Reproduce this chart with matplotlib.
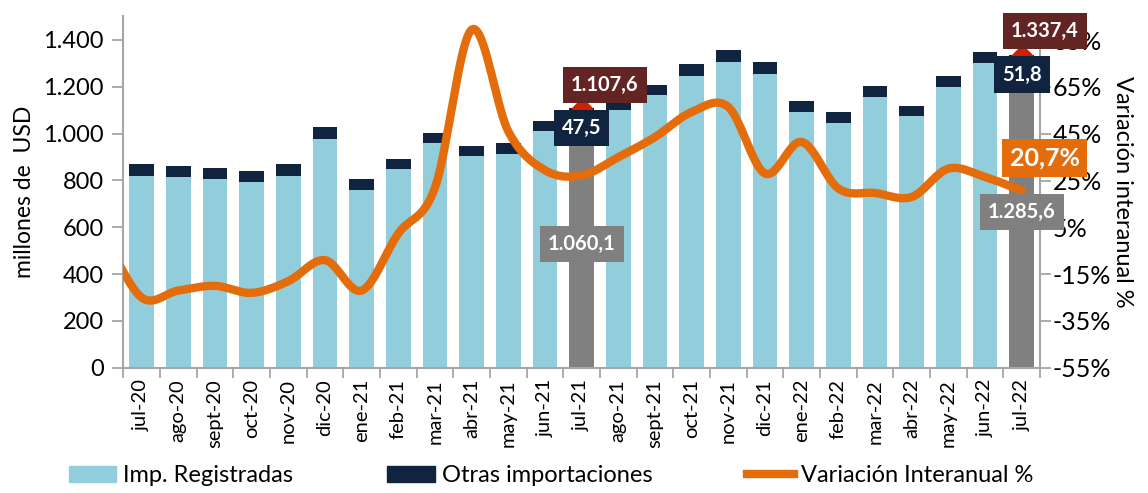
import numpy as np
import matplotlib
matplotlib.use('Agg')
import matplotlib.pyplot as plt
from matplotlib.patches import Patch
from matplotlib.lines import Line2D

plt.rcParams['font.family'] = ['Lato', 'DejaVu Sans']

# datos
meses = ['jul-20', 'ago-20', 'sept-20', 'oct-20', 'nov-20', 'dic-20', 'ene-21', 'feb-21',
         'mar-21', 'abr-21', 'may-21', 'jun-21', 'jul-21', 'ago-21', 'sept-21', 'oct-21',
         'nov-21', 'dic-21', 'ene-22', 'feb-22', 'mar-22', 'abr-22', 'may-22', 'jun-22', 'jul-22']
imp_registradas = [820, 813, 804, 794, 821, 975, 761, 849, 959, 904, 913, 1011,
                   1060.1, 1101, 1163, 1244, 1306, 1253, 1094, 1047, 1157, 1073, 1199, 1300, 1285.6]
otras_imp = [48, 47, 47, 48, 50, 51, 43, 43, 44, 42, 45, 43,
             47.5, 32, 45, 52, 50, 51, 47, 46, 47, 45, 49, 49, 51.8]
# variacion interanual (%), incluye jun-20 para el tramo inicial
var_previa = 1.0
var_interanual = [-25, -22, -20, -23, -18, -9, -22, 2.4, 22, 89.5, 46, 29.4,
                  27.2, 35, 43.6, 54.3, 56.4, 28, 41.5, 21.6, 19.7, 18, 30.1, 26.5, 20.7]
destacados = [12, 24]

C_CELESTE = '#92CDDC'
C_NAVY = '#10243F'
C_GRIS = '#808080'
C_NARANJA = '#E46C0A'
C_BORDO = '#632523'
C_ROJO = '#CC2200'
C_EJE = '#A6A6A6'


def fmt_num(v):
    s = f'{v:,.1f}'
    return s.replace(',', 'X').replace('.', ',').replace('X', '.')


def suavizar(xs, ys, n=20):
    # curva suavizada tipo Catmull-Rom (como la linea suavizada de Excel)
    xs = np.asarray(xs, float)
    ys = np.asarray(ys, float)
    px = np.concatenate([[xs[0]], xs, [xs[-1]]])
    py = np.concatenate([[ys[0]], ys, [ys[-1]]])
    outx, outy = [], []
    t = np.linspace(0, 1, n)
    for i in range(1, len(px) - 2):
        for p, out in ((px, outx), (py, outy)):
            p0, p1, p2, p3 = p[i - 1], p[i], p[i + 1], p[i + 2]
            out.extend(0.5 * ((2 * p1) + (-p0 + p2) * t
                              + (2 * p0 - 5 * p1 + 4 * p2 - p3) * t ** 2
                              + (-p0 + 3 * p1 - 3 * p2 + p3) * t ** 3))
    return np.array(outx), np.array(outy)


x = np.arange(len(meses))
colores = [C_GRIS if i in destacados else C_CELESTE for i in x]

fig = plt.figure(figsize=(11.48, 4.93), dpi=100)
ax = fig.add_axes([0.1074, 0.254, 0.7986, 0.7135])
ax.bar(x, imp_registradas, width=0.67, color=colores, zorder=2)
ax.bar(x, otras_imp, width=0.67, bottom=imp_registradas, color=C_NAVY, zorder=2)

ax.set_xlim(-0.5, len(meses) - 0.5)
ax.set_ylim(0, 1502)
ax.set_yticks(np.arange(0, 1401, 200))
ax.set_yticklabels([f'{v:,.0f}'.replace(',', '.') for v in np.arange(0, 1401, 200)])
ax.set_xticks(x)
ax.set_xticklabels(meses, rotation=90)
ax.set_xticks(np.arange(-0.5, len(meses)), minor=True)
ax.tick_params(axis='x', which='major', length=0, labelsize=14.5, pad=8)
ax.tick_params(axis='x', which='minor', length=7, color=C_EJE, width=1.3)
ax.tick_params(axis='y', length=8, color=C_EJE, width=1.3, labelsize=17, pad=6)
ax.set_ylabel('millones de  USD', fontsize=16.5, labelpad=6)
for s in ['top', 'right']:
    ax.spines[s].set_visible(False)
for s in ['left', 'bottom']:
    ax.spines[s].set_color(C_EJE)
    ax.spines[s].set_linewidth(1.5)

ax2 = ax.twinx()
ax2.set_ylim(-55, 95.3)
ax2.set_yticks(np.arange(-55, 86, 20))
ax2.set_yticklabels([f'{v}%' for v in np.arange(-55, 86, 20)])
ax2.tick_params(axis='y', length=8, color=C_EJE, width=1.3, labelsize=18, pad=1)
ax2.set_ylabel('Variación interanual %', fontsize=17, rotation=270, labelpad=16)
for s in ['top', 'left', 'bottom']:
    ax2.spines[s].set_visible(False)
ax2.spines['right'].set_color(C_EJE)
ax2.spines['right'].set_linewidth(1.5)

lx, ly = suavizar(np.arange(-1, len(meses)), [var_previa] + var_interanual)
ax2.plot(lx, ly, color=C_NARANJA, lw=6, solid_capstyle='round', zorder=3)
ax2.set_xlim(-0.5, len(meses) - 0.5)

# etiquetas de los meses destacados
tot = [imp_registradas[i] + otras_imp[i] for i in range(len(meses))]
tr = ax.transData
for i in destacados:
    ax2.plot(i, tot[i], marker='D', ms=10, color=C_ROJO, transform=tr, zorder=4)
    ax2.text(i + 0.63, tot[i] + 100, fmt_num(tot[i]), transform=tr, ha='center', va='center',
             color='white', fontsize=14.5, fontweight='bold', zorder=6,
             bbox=dict(boxstyle='square,pad=0.4', fc=C_BORDO, ec='none'))
    ax2.text(i, tot[i] - 85, fmt_num(otras_imp[i]), transform=tr, ha='center', va='center',
             color='white', fontsize=14.5, fontweight='bold', zorder=5,
             bbox=dict(boxstyle='square,pad=0.4', fc=C_NAVY, ec='none'))
    ax2.text(i, imp_registradas[i] * 0.5 if i == 12 else imp_registradas[i] - 620,
             fmt_num(imp_registradas[i]), transform=tr, ha='center', va='center',
             color='white', fontsize=14.5, fontweight='bold', zorder=5,
             bbox=dict(boxstyle='square,pad=0.4', fc=C_GRIS, ec='none'))

ax2.text(24.63, 34.7, fmt_num(var_interanual[-1]) + '%', ha='center', va='center',
         color='white', fontsize=18, fontweight='bold', zorder=6,
         bbox=dict(boxstyle='square,pad=0.3', fc=C_NARANJA, ec='none'))

handles = [Patch(color=C_CELESTE), Patch(color=C_NAVY), Line2D([], [], color=C_NARANJA, lw=6)]
fig.legend(handles, ['Imp. Registradas', 'Otras importaciones', 'Variación Interanual %'],
           loc='center', bbox_to_anchor=(0.48, 0.035), ncol=3, frameon=False, fontsize=17,
           handlelength=2.0, handletextpad=0.3, columnspacing=4.0)

fig.savefig('out.png', dpi=100)
